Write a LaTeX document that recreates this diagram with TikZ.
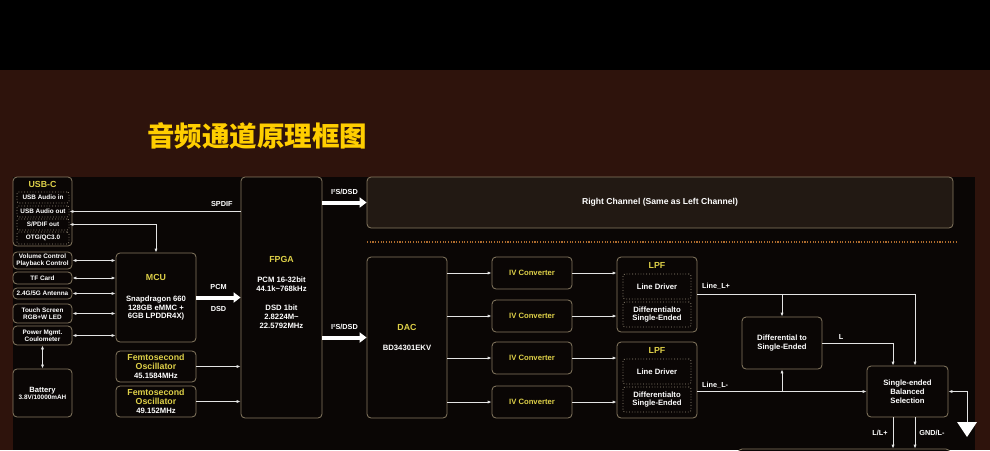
\documentclass[tikz,border=0pt]{standalone}
\usepackage{fontspec}
\setmainfont{Liberation Sans}
\newfontfamily\cjk{Noto Sans CJK SC}
\usetikzlibrary{arrows.meta,positioning,calc}

\definecolor{topblk}{RGB}{0,0,0}
\definecolor{bgbrown}{RGB}{46,19,12}
\definecolor{panel}{RGB}{10,6,5}
\definecolor{boxline}{RGB}{135,122,98}
\definecolor{chfill}{RGB}{34,25,19}
\definecolor{ylw}{RGB}{222,208,72}
\definecolor{titleylw}{RGB}{255,206,0}
\definecolor{sepclr}{RGB}{175,108,45}
\definecolor{wireclr}{RGB}{228,228,228}

\newcommand{\tinyfont}{\fontsize{6.4}{7}\selectfont}
\newcommand{\txtfont}{\fontsize{7.7}{8.8}\selectfont}
\newcommand{\headfont}{\fontsize{8.8}{8.5}\selectfont}
\newcommand{\hd}[1]{{\color{ylw}\headfont #1}}

\begin{document}
\begin{tikzpicture}[
      x=1pt,y=-1pt,
      box/.style={draw=boxline,line width=0.8pt,rounded corners=4pt,fill=panel,
                  text=white,align=center,inner sep=0pt,font=\bfseries\txtfont},
      smallbox/.style={box,font=\bfseries\tinyfont,minimum width=59pt},
      subbox/.style={draw=boxline!85,dotted,line width=0.8pt,rounded corners=2pt,
                     text=white,align=center,inner sep=0pt,font=\bfseries\txtfont},
      head/.style={text=ylw,font=\bfseries\headfont,inner sep=0pt},
      lbl/.style={text=white,font=\bfseries\fontsize{7.3}{8}\selectfont,inner sep=0pt},
      wire/.style={draw=wireclr,line width=0.9pt,-{Latex[length=4pt,width=3.2pt]}},
      biwire/.style={draw=wireclr,line width=0.9pt,
                     {Latex[length=4pt,width=3.2pt]}-{Latex[length=4pt,width=3.2pt]}},
      bus/.style={draw=white,line width=4pt,-{Triangle[length=7pt,width=10pt]}},
    ]
    \useasboundingbox (0,0) rectangle (990,450);
    \clip (0,0) rectangle (990,450);

    % Background
    \fill[topblk] (0,0) rectangle (990,70);
    \fill[bgbrown] (0,70) rectangle (990,450);
    \fill[panel] (13,177) rectangle (975,450);
    \node[text=titleylw,font=\cjk\bfseries\fontsize{27.5}{28}\selectfont] (title)
          at (257,136) {音频通道原理框图};

    % Left column
    \node[box,minimum width=59pt,minimum height=69pt] (usbc) at (42.5,211.5) {};
    \node[head] (usbchd) at ([yshift=-8pt]usbc.north) {USB-C};
    \node[subbox,font=\bfseries\tinyfont,minimum width=52pt,minimum height=11pt]
          (usbin) at (43,197.5) {USB Audio in};
    \node[subbox,font=\bfseries\tinyfont,minimum width=52pt,minimum height=11pt]
          (usbout) at (43,211.5) {USB Audio out};
    \node[subbox,font=\bfseries\tinyfont,minimum width=52pt,minimum height=11pt]
          (spdifout) at (43,224.5) {S/PDIF out};
    \node[subbox,font=\bfseries\tinyfont,minimum width=52pt,minimum height=12pt]
          (otg) at (43,238) {OTG/QC3.0};

    \node[smallbox,minimum height=17pt] (vol) at (42.5,260.5) {Volume Control\\Playback Control};
    \node[smallbox,minimum height=12pt] (tf) at (42.5,278) {TF Card};
    \node[smallbox,minimum height=11pt] (ant) at (42.5,293.5) {2.4G/5G Antenna};
    \node[smallbox,minimum height=19pt] (touch) at (42.5,313.5) {Touch Screen\\RGB+W LED};
    \node[smallbox,minimum height=19pt] (power) at (42.5,335.5) {Power Mgmt.\\Coulometer};
    \node[smallbox,minimum height=48pt] (bat) at (42.5,393)
          {{\fontsize{7.6}{9}\selectfont Battery}\\3.8V/10000mAH};

    % MCU and oscillators
    \node[box,minimum width=80pt,minimum height=89pt] (mcu) at (156,297.5)
          {\hd{MCU}\\[12pt]Snapdragon 660\\128GB eMMC +\\6GB LPDDR4X)};
    \node[box,minimum width=80pt,minimum height=31pt] (osca) at (156,366.5)
          {\hd{Femtosecond}\\\hd{Oscillator}\\45.1584MHz};
    \node[box,minimum width=80pt,minimum height=31pt] (oscb) at (156,401.5)
          {\hd{Femtosecond}\\\hd{Oscillator}\\49.152MHz};

    % FPGA
    \node[box,minimum width=81pt,minimum height=241pt] (fpga) at (281.5,297.5) {};
    \node[align=center,text=white,font=\bfseries\txtfont,inner sep=0pt] (fpgatxt)
          at ([yshift=5pt]fpga.center)
          {\hd{FPGA}\\[11pt]PCM 16-32bit\\44.1k\textasciitilde768kHz\\[11pt]DSD 1bit\\
           2.8224M\textasciitilde\\22.5792MHz};

    % Right channel and separator
    \node[box,fill=chfill,minimum width=586pt,minimum height=51pt,
          font=\bfseries\fontsize{8.6}{10}\selectfont] (rch) at (660,202.5)
          {Right Channel (Same as Left Channel)};
    \draw[sepclr,line width=1.1pt,dash pattern=on 1.1pt off 1.6pt] (367,242) -- (957,242);

    % DAC and IV converters
    \node[box,minimum width=80pt,minimum height=161pt] (dac) at (407,337.5)
          {\hd{DAC}\\[11pt]BD34301EKV};
    \foreach \n/\y in {iva/273,ivb/316,ivc/358,ivd/402}
      \node[box,minimum width=80pt,minimum height=32pt,text=ylw] (\n) at (532,\y) {IV Converter};

    % LPF blocks
    \node[box,minimum width=80pt,minimum height=75pt] (lpfa) at (657,294.5) {};
    \node[head] (lpfahd) at ([yshift=-9pt]lpfa.north) {LPF};
    \node[subbox,minimum width=68pt,minimum height=25pt] (drva) at (657,286.5) {Line Driver};
    \node[subbox,minimum width=68pt,minimum height=25pt] (dsea) at (657,314.5)
          {Differentialto\\Single-Ended};
    \node[box,minimum width=80pt,minimum height=76pt] (lpfb) at (657,380) {};
    \node[head] (lpfbhd) at ([yshift=-9pt]lpfb.north) {LPF};
    \node[subbox,minimum width=68pt,minimum height=25pt] (drvb) at (657,371.5) {Line Driver};
    \node[subbox,minimum width=68pt,minimum height=25pt] (dseb) at (657,399.5)
          {Differentialto\\Single-Ended};

    % Output stage
    \node[box,minimum width=80pt,minimum height=52pt] (d2s) at (782,343)
          {Differential to\\Single-Ended};
    \node[box,minimum width=81pt,minimum height=51pt] (sel) at (907.5,391.5)
          {Single-ended\\Balanced\\Selection};
    \node[box,minimum width=212pt,minimum height=40pt] (outbox) at (844,469) {};

    % Control connectors
    \draw[wire] (usbout -| fpga.west) -- (usbout.east)
          node[lbl,pos=0.11,above=4pt] (spdiflbl) {SPDIF};
    \draw[biwire] (spdifout.east) -| (mcu.north);
    \foreach \n in {vol,tf,ant,touch,power}
      \draw[biwire] (\n.east) -- (\n.east -| mcu.west);
    \draw[biwire] (power.south) -- (bat.north);
    \foreach \n in {osca,oscb}
      \draw[wire] (\n.east) -- (\n.east -| fpga.west);

    % Data buses
    \draw[bus] (mcu.east) -- (mcu.east -| fpga.west)
          node[lbl,midway,above=6pt] (pcm) {PCM}
          node[lbl,midway,below=7pt] (dsd) {DSD};
    \draw[bus] (rch.west -| fpga.east) -- (rch.west)
          node[lbl,midway,above=6pt] (i2sa) {I²S/DSD};
    \draw[bus] (dac.west -| fpga.east) -- (dac.west)
          node[lbl,midway,above=6pt] (i2sb) {I²S/DSD};

    % Analog path
    \foreach \n in {iva,ivb,ivc,ivd} {
      \draw[wire] (\n.west -| dac.east) -- (\n.west);
      \draw[wire] (\n.east) -- (\n.east -| lpfa.west);
    }
    \coordinate (selp) at ([xshift=7.5pt]sel.north);
    \coordinate (sell) at ([xshift=-14.5pt]sel.north);
    \coordinate (outl) at ([xshift=-14.5pt]sel.south);
    \coordinate (outg) at ([xshift=7.5pt]sel.south);
    \draw[wire] (lpfa.east) -| (selp);
    \draw[wire] (lpfa.east -| d2s.north) -- (d2s.north);
    \draw[wire] (sel.west -| lpfb.east) -- (sel.west);
    \draw[wire] (sel.west -| d2s.south) -- (d2s.south);
    \draw[wire] (d2s.east) -| (sell);
    \draw[wire] (outl) -- (outl |- outbox.north);
    \draw[wire] (outg) -- (outg |- outbox.north);

    % Ground
    \coordinate (gnd) at (967,422);
    \draw[wire] (gnd) |- (sel.east);
    \fill[white] ([xshift=-10pt]gnd) -- ([xshift=10pt]gnd) -- ([yshift=-15pt]gnd) -- cycle;

    % Signal labels
    \node[lbl,anchor=west] (lplus) at (702,286) {Line\_L+};
    \node[lbl,anchor=west] (lminus) at (702,385) {Line\_L-};
    \node[lbl] (llbl) at (841,337) {L};
    \node[lbl] (lllbl) at (880,433) {L/L+};
    \node[lbl] (gndlbl) at (932,433) {GND/L-};

  \end{tikzpicture}
\end{document}
